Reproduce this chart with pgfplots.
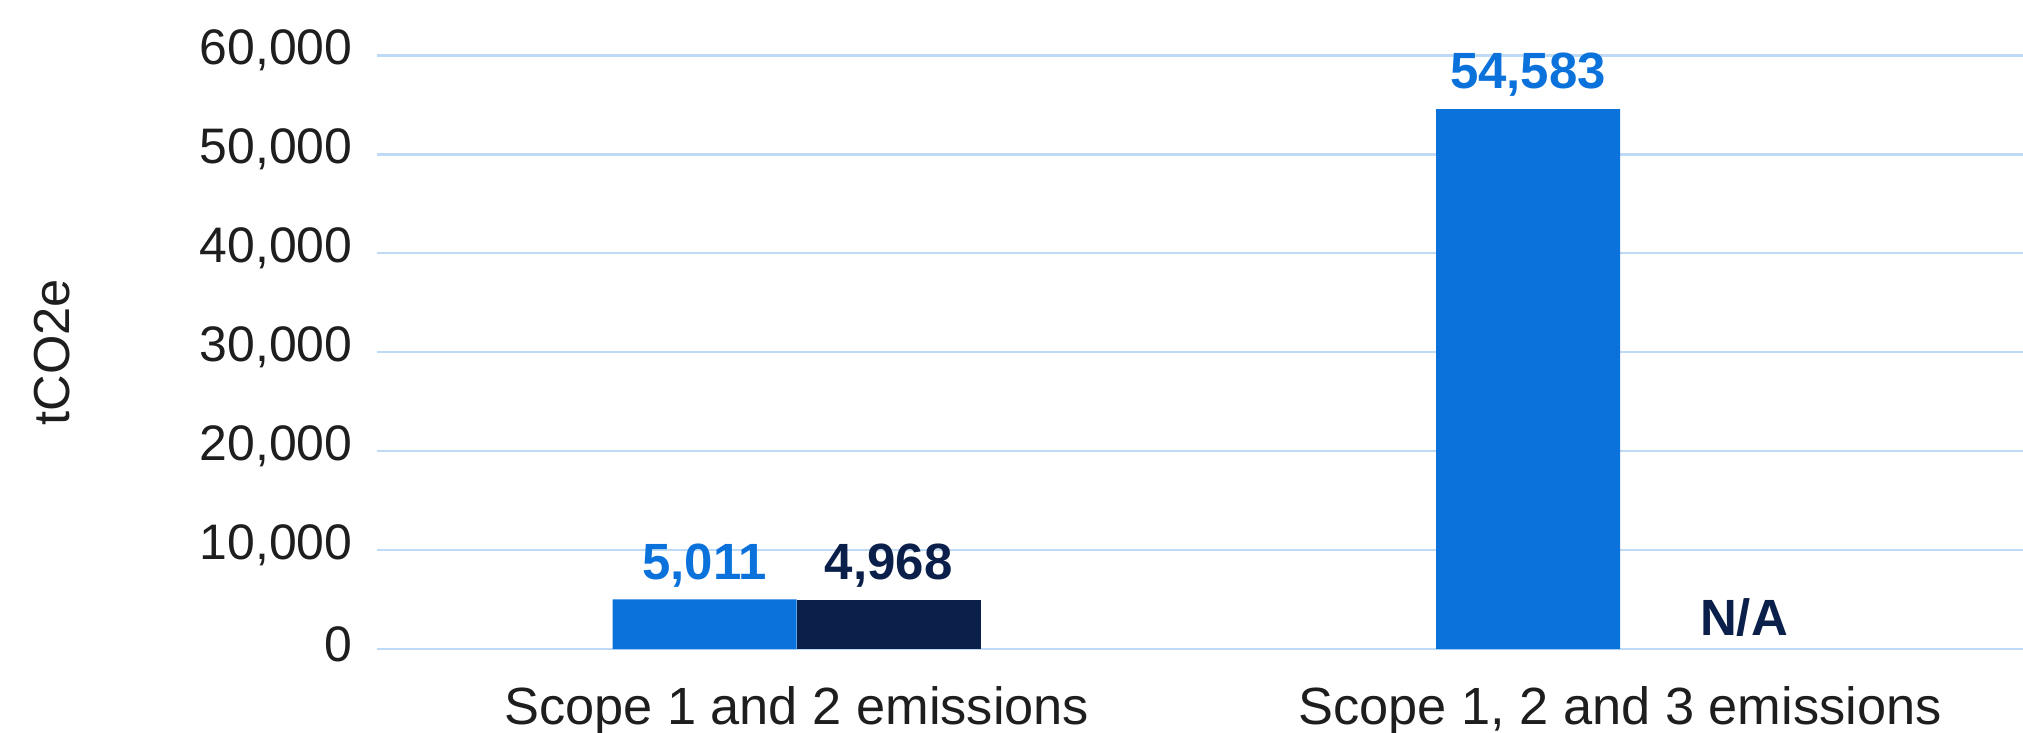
\documentclass[border=0pt]{standalone}
\usepackage{fontspec}
\setmainfont{Liberation Sans}
\usepackage{pgfplots}
\pgfplotsset{compat=1.18}
\definecolor{barblue}{RGB}{11,114,220}
\definecolor{barnavy}{RGB}{10,31,74}
\definecolor{gridblue}{RGB}{190,218,245}
\definecolor{ticktext}{RGB}{30,30,30}
\begin{document}
\begin{tikzpicture}
\begin{axis}[
    at={(3.767cm,0.83cm)}, anchor=south west,
    scale only axis,
    width=16.46cm, height=5.935cm,
    ybar=0pt, bar width=1.84cm,
    xmin=-0.51, xmax=1.489,
    ymin=0, ymax=60000,
    ytick={0,10000,20000,30000,40000,50000,60000},
    xtick={0,1},
    xticklabels={Scope 1 and 2 emissions, {Scope 1, 2 and 3 emissions}},
    scaled y ticks=false,
    /pgf/number format/.cd, 1000 sep={,}, assume math mode=true,
    /pgfplots/.cd,
    axis line style={draw=none},
    major tick length=0pt,
    ymajorgrids, grid style={gridblue, line width=0.6pt},
    yticklabel style={font=\fontsize{14.2}{16}\selectfont, text=ticktext, xshift=-0.12cm, yshift=0.05cm},
    xticklabel style={font=\fontsize{14.9}{17}\selectfont, text=ticktext, yshift=-0.25cm},
    ylabel={tCO2e},
    ylabel style={at={(rel axis cs:-0.197,0.5)}, anchor=center, font=\fontsize{14.4}{17}\selectfont, text=ticktext},
    nodes near coords,
    point meta=explicit symbolic,
    every node near coord/.append style={font=\bfseries\fontsize{14.5}{17}\selectfont},
]
% 2 bars per group: blue and navy
\addplot[fill=barblue, draw=none, bar shift=-0.92cm, every node near coord/.append style={text=barblue}]
    table[meta=label] {
x y label
0 5011 5,011
1 54583 54,583
};
\addplot[fill=barnavy, draw=none, bar shift=0.92cm, every node near coord/.append style={text=barnavy}]
    table[meta=label] {
x y label
0 4968 4,968
};
% no value for the navy bar in the second group
\addplot[fill=none, draw=none, bar shift=1.24cm, every node near coord/.append style={text=barnavy}]
    table[meta=label] {
x y label
1 0 N/A
};
\end{axis}
\pgfresetboundingbox
\path[use as bounding box] (0,0) rectangle (20.23cm,7.32cm);
\end{tikzpicture}
\end{document}
